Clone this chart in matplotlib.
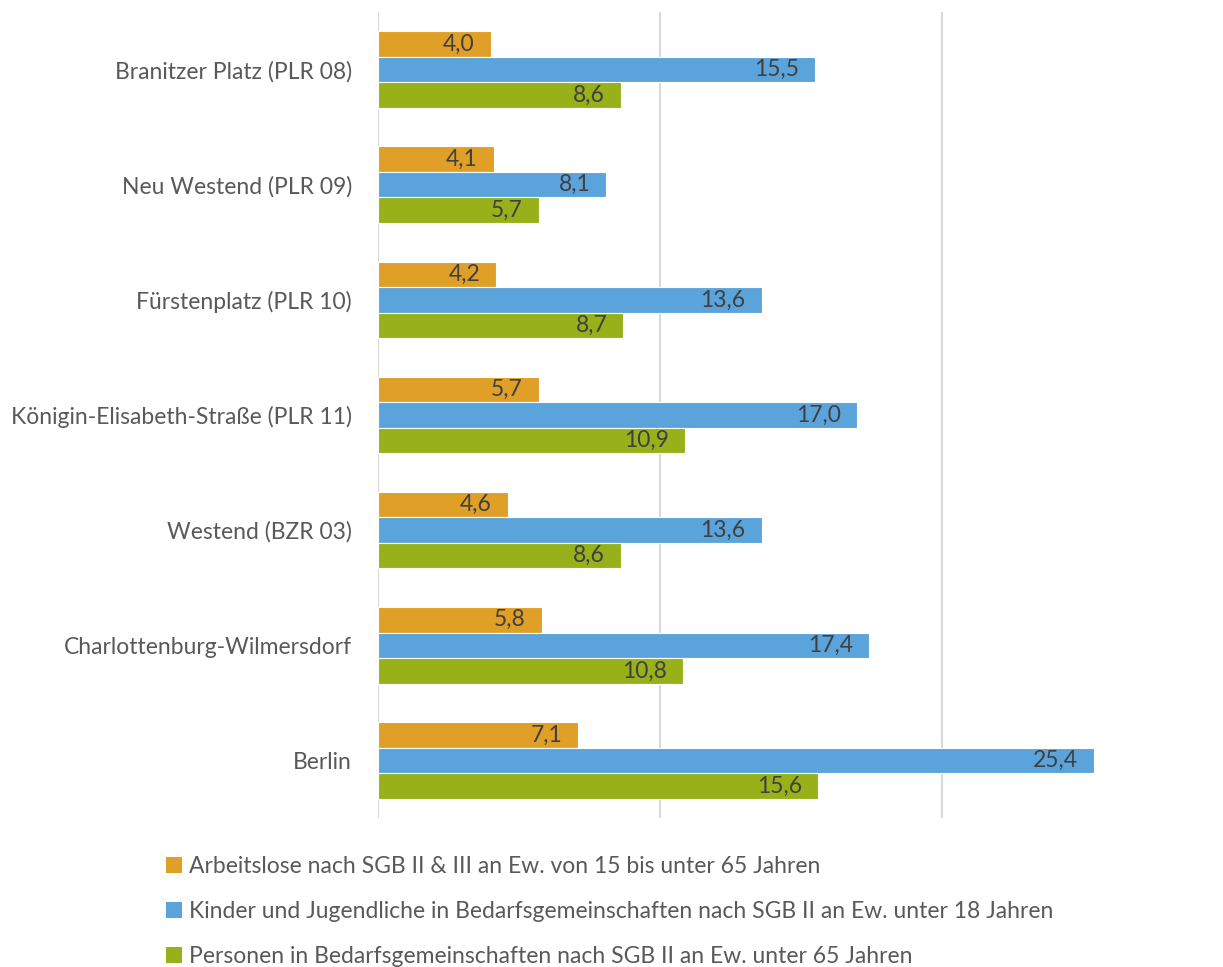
import numpy as np
import matplotlib.pyplot as plt
from matplotlib.patches import Patch

categories = ['Branitzer Platz (PLR 08)', 'Neu Westend (PLR 09)', 'Fürstenplatz (PLR 10)',
              'Königin-Elisabeth-Straße (PLR 11)', 'Westend (BZR 03)',
              'Charlottenburg-Wilmersdorf', 'Berlin']
arbeitslose = [4.0, 4.1, 4.2, 5.7, 4.6, 5.8, 7.1]
kinder = [15.5, 8.1, 13.6, 17.0, 13.6, 17.4, 25.4]
personen = [8.6, 5.7, 8.7, 10.9, 8.6, 10.8, 15.6]
series_names = ['Arbeitslose nach SGB II & III an Ew. von 15 bis unter 65 Jahren',
                'Kinder und Jugendliche in Bedarfsgemeinschaften nach SGB II an Ew. unter 18 Jahren',
                'Personen in Bedarfsgemeinschaften nach SGB II an Ew. unter 65 Jahren']
colors = ['#E09F26', '#5BA3DB', '#98B019']

plt.rcParams['font.family'] = ['Lato', 'DejaVu Sans']

fig = plt.figure(figsize=(12.23, 9.67), dpi=100)
ax = fig.add_axes([378 / 1223, 149 / 967, 846 / 1223, 806 / 967])

y = np.arange(len(categories))
h = 0.222
for k, (vals, col) in enumerate(zip([arbeitslose, kinder, personen], colors)):
    pos = y + (k - 1) * h
    ax.barh(pos, vals, height=h, color=col, edgecolor='white', linewidth=0.8, zorder=3)
    for p, v in zip(pos, vals):
        ax.annotate(f'{v:.1f}'.replace('.', ','), xy=(v, p), xytext=(-16, 0),
                    textcoords='offset pixels', ha='right', va='center',
                    fontsize=16.5, color='#404040', zorder=4)

ax.set_xlim(0, 30)
ax.set_ylim(len(categories) - 0.5, -0.5)
ax.set_xticks([0, 10, 20, 30])
ax.set_xticklabels([])
ax.tick_params(axis='x', length=0)
ax.tick_params(axis='y', length=0, pad=18.7, labelsize=16.5, labelcolor='#595959')
ax.set_yticks(y)
ax.set_yticklabels(categories)
ax.grid(axis='x', color='#D9D9D9', linewidth=1.5, zorder=0)
for s in ax.spines.values():
    s.set_visible(False)

handles = [Patch(facecolor=c, edgecolor='none') for c in colors]
fig.legend(handles, series_names, loc='upper left', bbox_to_anchor=(157 / 1223, 1 - 847 / 967),
           frameon=False, fontsize=16.5, labelcolor='#595959', handlelength=0.7,
           handleheight=0.7, handletextpad=0.3, labelspacing=1.05, borderaxespad=0)

fig.savefig('out.png', dpi=100)
